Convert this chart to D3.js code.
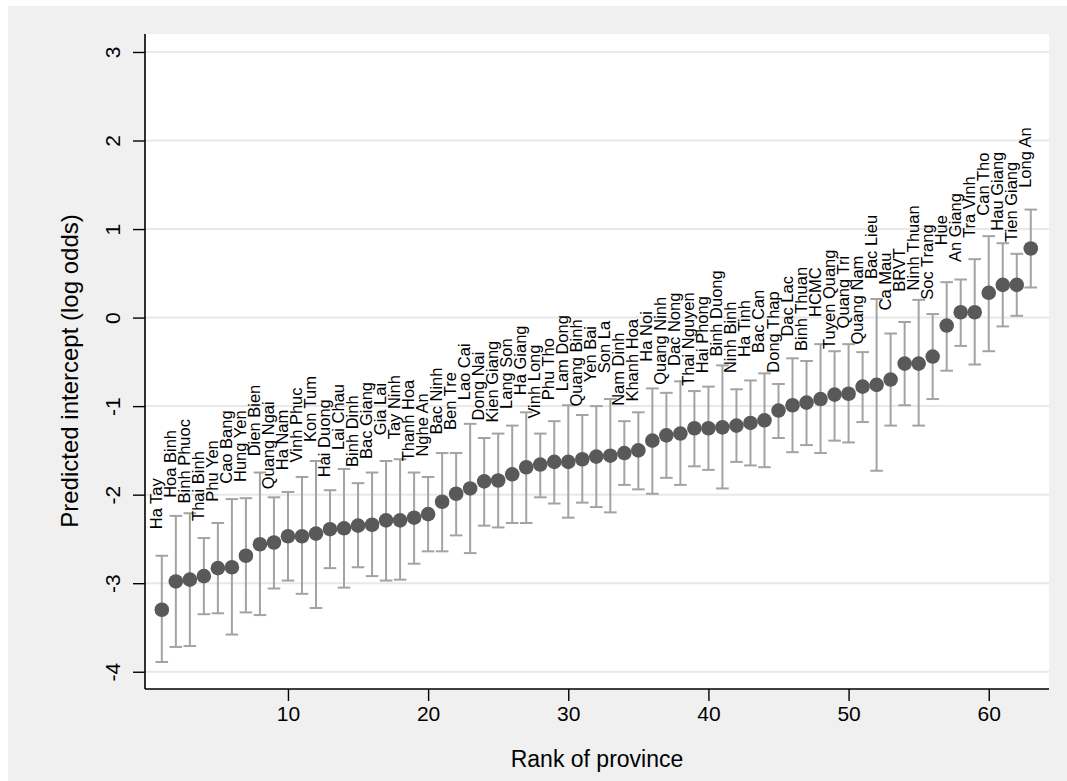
<!DOCTYPE html>
<html>
<head>
<meta charset="utf-8">
<script src="https://cdn.jsdelivr.net/npm/d3@7"></script>
<style>
  html, body { margin: 0; padding: 0; background: #ffffff; }
  svg { display: block; font-family: "Liberation Sans", Arial, Helvetica, sans-serif; }
</style>
</head>
<body>
<svg id="chart" width="1067" height="781"></svg>
<script>
// Provinces ordered by rank of predicted intercept
const provinces = [
  "Ha Tay","Hoa Binh","Binh Phuoc","Thai Binh","Phu Yen","Cao Bang","Hung Yen","Dien Bien","Quang Ngai","Ha Nam",
  "Vinh Phuc","Kon Tum","Hai Duong","Lai Chau","Binh Dinh","Bac Giang","Gia Lai","Tay Ninh","Thanh Hoa","Nghe An",
  "Bac Ninh","Ben Tre","Lao Cai","Dong Nai","Kien Giang","Lang Son","Ha Giang","Vinh Long","Phu Tho","Lam Dong",
  "Quang Binh","Yen Bai","Son La","Nam Dinh","Khanh Hoa","Ha Noi","Quang Ninh","Dac Nong","Thai Nguyen","Hai Phong",
  "Binh Duong","Ninh Binh","Ha Tinh","Bac Can","Dong Thap","Dac Lac","Binh Thuan","HCMC","Tuyen Quang","Quang Tri",
  "Quang Nam","Bac Lieu","Ca Mau","BRVT","Ninh Thuan","Soc Trang","Hue","An Giang","Tra Vinh","Can Tho",
  "Hau Giang","Tien Giang","Long An"
];

// Predicted intercept (log odds)
const estimate = [
  -3.30,-2.98,-2.96,-2.92,-2.83,-2.82,-2.69,-2.56,-2.54,-2.47,
  -2.47,-2.44,-2.39,-2.38,-2.35,-2.34,-2.29,-2.29,-2.26,-2.22,
  -2.08,-1.99,-1.93,-1.85,-1.84,-1.77,-1.69,-1.66,-1.63,-1.63,
  -1.60,-1.57,-1.56,-1.53,-1.50,-1.39,-1.33,-1.31,-1.25,-1.25,
  -1.24,-1.22,-1.19,-1.16,-1.05,-0.99,-0.96,-0.92,-0.87,-0.86,
  -0.78,-0.76,-0.70,-0.52,-0.52,-0.44,-0.09,0.06,0.06,0.28,
  0.37,0.37,0.78
];

// Upper bound of the interval
const upper = [
  -2.69,-2.24,-2.21,-2.49,-2.32,-2.05,-2.04,-1.75,-2.03,-1.97,
  -1.80,-1.62,-1.95,-1.71,-1.87,-1.75,-1.62,-1.60,-1.75,-1.80,
  -1.53,-1.53,-1.20,-1.36,-1.31,-1.22,-1.07,-1.31,-1.17,-0.99,
  -1.10,-1.00,-0.92,-1.17,-1.07,-0.80,-0.85,-0.72,-0.83,-0.78,
  -0.54,-0.81,-0.71,-0.63,-0.75,-0.46,-0.49,-0.30,-0.38,-0.30,
  -0.39,0.21,-0.18,-0.05,0.20,0.04,0.40,0.43,0.66,0.92,
  0.84,0.72,1.22
];

// Lower bound of the interval
const lower = [
  -3.89,-3.72,-3.71,-3.35,-3.34,-3.58,-3.33,-3.36,-3.06,-2.97,
  -3.12,-3.28,-2.83,-3.05,-2.82,-2.92,-2.97,-2.96,-2.78,-2.64,
  -2.64,-2.46,-2.66,-2.35,-2.37,-2.32,-2.32,-2.03,-2.10,-2.26,
  -2.09,-2.14,-2.20,-1.89,-1.94,-1.99,-1.81,-1.89,-1.68,-1.72,
  -1.93,-1.63,-1.67,-1.69,-1.36,-1.52,-1.44,-1.53,-1.39,-1.41,
  -1.18,-1.73,-1.22,-0.99,-1.22,-0.92,-0.60,-0.32,-0.53,-0.38,
  -0.10,0.02,0.34
];

const xTicks = [10, 20, 30, 40, 50, 60];
const yTicks = [-4, -3, -2, -1, 0, 1, 2, 3];

const rows = provinces.map((name, i) => ({
  rank: i + 1, name, est: estimate[i], lo: lower[i], hi: upper[i]
}));

const W = 1067, H = 781;
const plot = { left: 145, right: 1049, top: 34, bottom: 689 };

const svg = d3.select("#chart");

// outer graph region
svg.append("rect").attr("x", 8).attr("y", 6).attr("width", W - 8).attr("height", H - 6)
  .attr("fill", "#f0f0f0");
// plot region
svg.append("rect").attr("x", plot.left).attr("y", plot.top)
  .attr("width", plot.right - plot.left).attr("height", plot.bottom - plot.top)
  .attr("fill", "#ffffff");

const x = d3.scaleLinear().domain([-0.2, 64.3]).range([plot.left, plot.right]);
const y = d3.scaleLinear().domain([-4.195, 3.203]).range([plot.bottom, plot.top]);

// horizontal grid lines
svg.append("g").selectAll("line").data(yTicks).join("line")
  .attr("x1", plot.left).attr("x2", plot.right)
  .attr("y1", d => y(d)).attr("y2", d => y(d))
  .attr("stroke", "#e8e8e8").attr("stroke-width", 2);

// confidence intervals
const ci = svg.append("g").attr("stroke", "#a3a3a3").attr("stroke-width", 2).attr("fill", "none");
ci.selectAll("line.v").data(rows).join("line").attr("class", "v")
  .attr("x1", d => x(d.rank)).attr("x2", d => x(d.rank))
  .attr("y1", d => y(d.lo)).attr("y2", d => y(d.hi));
ci.selectAll("line.capHi").data(rows).join("line").attr("class", "capHi")
  .attr("x1", d => x(d.rank) - 6.3).attr("x2", d => x(d.rank) + 6.3)
  .attr("y1", d => y(d.hi)).attr("y2", d => y(d.hi));
ci.selectAll("line.capLo").data(rows).join("line").attr("class", "capLo")
  .attr("x1", d => x(d.rank) - 6.3).attr("x2", d => x(d.rank) + 6.3)
  .attr("y1", d => y(d.lo)).attr("y2", d => y(d.lo));

// point estimates
svg.append("g").selectAll("circle").data(rows).join("circle")
  .attr("cx", d => x(d.rank)).attr("cy", d => y(d.est)).attr("r", 7.3)
  .attr("fill", "#595959");

// province labels, vertical, above the upper bound
svg.append("g").selectAll("text").data(rows).join("text")
  .attr("transform", d => `translate(${x(d.rank)},${y(d.hi) - 52}) rotate(-90)`)
  .attr("text-anchor", "middle")
  .attr("font-size", 16.5).attr("fill", "#000")
  .text(d => d.name);

// y axis
const yAxis = d3.axisLeft(y).tickValues(yTicks).tickSize(12).tickPadding(0).tickFormat(d => String(d));
const gy = svg.append("g").attr("transform", `translate(${plot.left},0)`).call(yAxis);
gy.select(".domain").attr("stroke", "#000").attr("stroke-width", 1.6)
  .attr("d", `M0,${plot.top}V${plot.bottom}`);
gy.selectAll(".tick line").attr("stroke", "#000").attr("stroke-width", 1.4);
gy.selectAll(".tick text")
  .attr("x", null).attr("dy", null)
  .attr("transform", "translate(-25,0) rotate(-90)")
  .attr("text-anchor", "middle")
  .attr("font-size", 21).attr("fill", "#000")
  .attr("font-family", "Liberation Sans, Arial, sans-serif");

// x axis
const xAxis = d3.axisBottom(x).tickValues(xTicks).tickSize(12).tickPadding(4).tickFormat(d => String(d));
const gx = svg.append("g").attr("transform", `translate(0,${plot.bottom})`).call(xAxis);
gx.select(".domain").attr("stroke", "#000").attr("stroke-width", 1.6)
  .attr("d", `M${plot.left},0H${plot.right}`);
gx.selectAll(".tick line").attr("stroke", "#000").attr("stroke-width", 1.4);
gx.selectAll(".tick text").attr("dy", null).attr("y", 32)
  .attr("font-size", 21).attr("fill", "#000")
  .attr("font-family", "Liberation Sans, Arial, sans-serif");

// axis titles
svg.append("text")
  .attr("x", (plot.left + plot.right) / 2).attr("y", 767)
  .attr("text-anchor", "middle").attr("font-size", 23).attr("fill", "#000")
  .text("Rank of province");
svg.append("text")
  .attr("transform", `translate(78,371) rotate(-90)`)
  .attr("text-anchor", "middle").attr("font-size", 24).attr("fill", "#000")
  .text("Predicted intercept (log odds)");
</script>
</body>
</html>
